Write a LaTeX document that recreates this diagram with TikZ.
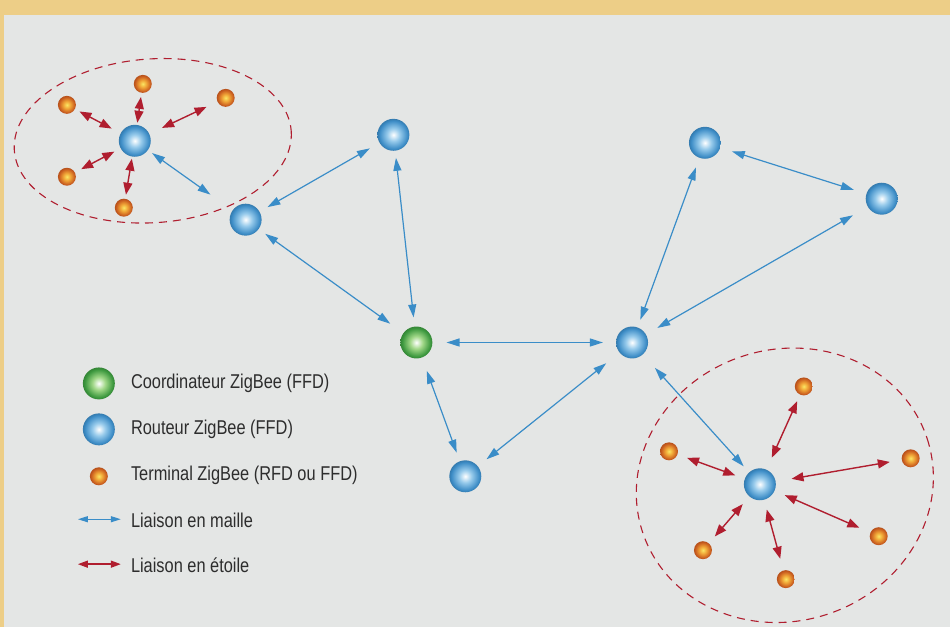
\documentclass[tikz,border=0pt]{standalone}
\usepackage{fontspec}
\setmainfont{Liberation Sans}[FakeStretch=0.82]
\usetikzlibrary{arrows.meta}

\definecolor{bgyellow}{RGB}{237,206,135}
\definecolor{bggrey}{RGB}{228,230,229}
\definecolor{meshblue}{RGB}{58,141,200}
\definecolor{starred}{RGB}{176,30,47}
\definecolor{legendtext}{RGB}{45,45,45}
\definecolor{rtmid}{RGB}{150,202,235}
\definecolor{rtrim}{RGB}{60,140,198}
\definecolor{comid}{RGB}{160,215,135}
\definecolor{corim}{RGB}{60,152,62}
\definecolor{tmcore}{RGB}{250,230,100}
\definecolor{tmmid}{RGB}{240,165,55}
\definecolor{tmrim}{RGB}{200,90,30}

\pgfdeclareradialshading{routerball}{\pgfpoint{0bp}{0bp}}{color(0bp)=(white); color(10bp)=(rtmid); color(22bp)=(rtrim); color(25bp)=(rtrim!88!black); color(50bp)=(rtrim!88!black)}
\pgfdeclareradialshading{coordball}{\pgfpoint{0bp}{0bp}}{color(0bp)=(white); color(10bp)=(comid); color(22bp)=(corim); color(25bp)=(corim!88!black); color(50bp)=(corim!88!black)}
\pgfdeclareradialshading{termball}{\pgfpoint{0bp}{0bp}}{color(0bp)=(tmcore); color(10bp)=(tmmid); color(22bp)=(tmrim); color(25bp)=(tmrim!90!black); color(50bp)=(tmrim!90!black)}

\begin{document}
\begin{tikzpicture}[x=1pt, y=-1pt]
    \tikzstyle{router}=[circle, minimum size=32pt, inner sep=0pt, shading=routerball]
    \tikzstyle{coordinator}=[circle, minimum size=32pt, inner sep=0pt, shading=coordball]
    \tikzstyle{terminal}=[circle, minimum size=18pt, inner sep=0pt, shading=termball]
    \tikzstyle{mesh}=[meshblue, line width=1.2pt, arrows={Triangle[length=13pt,width=8pt]-Triangle[length=13pt,width=8pt]}]
    \tikzstyle{star}=[starred, line width=1.4pt, arrows={Triangle[length=12pt,width=9pt]-Triangle[length=12pt,width=9pt]}]
    \tikzstyle{zone}=[starred, line width=1.1pt, dash pattern=on 8pt off 6pt]
    \tikzstyle{legend}=[anchor=west, inner sep=0pt, text=legendtext, font=\fontsize{20}{24}\selectfont]

    % background
    \fill[bgyellow] (0,0) rectangle (951,628);
    \fill[bggrey] (4,15) rectangle (951,628);

    % star zones
    \draw[zone, rotate around={4:(153,141)}] (153,141) ellipse [x radius=139, y radius=82];
    \draw[zone, rotate around={18:(786,486)}] (786,486) ellipse [x radius=150, y radius=136];

    % coordinator and routers
    \node[coordinator] (Coord) at (417,343) {};
    \node[router] (r1) at (135,141) {};
    \node[router] (r2) at (246,220) {};
    \node[router] (r3) at (394,135) {};
    \node[router] (r4) at (706,143) {};
    \node[router] (r5) at (883,199) {};
    \node[router] (r6) at (633,343) {};
    \node[router] (r7) at (466,477) {};
    \node[router] (r8) at (761,485) {};

    % terminals
    \node[terminal] (t1) at (67,105) {};
    \node[terminal] (t2) at (143,84) {};
    \node[terminal] (t3) at (226,98) {};
    \node[terminal] (t4) at (67,177) {};
    \node[terminal] (t5) at (124,208) {};
    \node[terminal] (t6) at (805,387) {};
    \node[terminal] (t7) at (670,452) {};
    \node[terminal] (t8) at (912,459) {};
    \node[terminal] (t9) at (880,537) {};
    \node[terminal] (t10) at (704,551) {};
    \node[terminal] (t11) at (787,580) {};

    % mesh links
    \foreach \a/\b/\s/\e in {r1/r2/5pt/27pt, r2/r3/9pt/11pt, r2/Coord/8pt/16pt,
                             r3/Coord/7pt/9pt, Coord/r6/14pt/13pt, Coord/r7/14pt/9pt,
                             r7/r6/11pt/17pt, r6/r4/8pt/10pt, r6/r5/13pt/17pt,
                             r4/r5/12pt/13pt, r6/r8/18pt/8pt}
        \draw[mesh, shorten <=\s, shorten >=\e] (\a) -- (\b);

    % star links
    \foreach \a/\b/\s/\e in {t1/r1/5pt/10pt, t2/r1/4pt/2pt, t3/r1/12pt/14pt,
                             t4/r1/7pt/7pt, t5/r1/4pt/2pt, t6/r8/7pt/13pt,
                             t7/r8/10pt/10pt, t8/r8/12pt/16pt, t9/r8/12pt/11pt,
                             t10/r8/9pt/10pt, t11/r8/12pt/10pt}
        \draw[star, shorten <=\s, shorten >=\e] (\a) -- (\b);

    % legend
    \node[coordinator] (legCoord) at (99,384) {};
    \node[router] (legRouter) at (99,430) {};
    \node[terminal] (legTerm) at (99,477) {};
    \coordinate (legMeshA) at (78,520);
    \coordinate (legMeshB) at (121,520);
    \coordinate (legStarA) at (78,565);
    \coordinate (legStarB) at (121,565);
    \draw[mesh, arrows={Triangle[length=10pt,width=6pt]-Triangle[length=10pt,width=6pt]}] (legMeshA) -- (legMeshB);
    \draw[star, arrows={Triangle[length=10pt,width=7pt]-Triangle[length=10pt,width=7pt]}] (legStarA) -- (legStarB);

    \node[legend] (txtCoord) at (131,384) {Coordinateur ZigBee (FFD)};
    \node[legend] (txtRouter) at (131,430) {Routeur ZigBee (FFD)};
    \node[legend] (txtTerm) at (131,476) {Terminal ZigBee (RFD ou FFD)};
    \node[legend] (txtMesh) at (131,521) {Liaison en maille};
    \node[legend] (txtStar) at (131,566) {Liaison en étoile};
\end{tikzpicture}
\end{document}
